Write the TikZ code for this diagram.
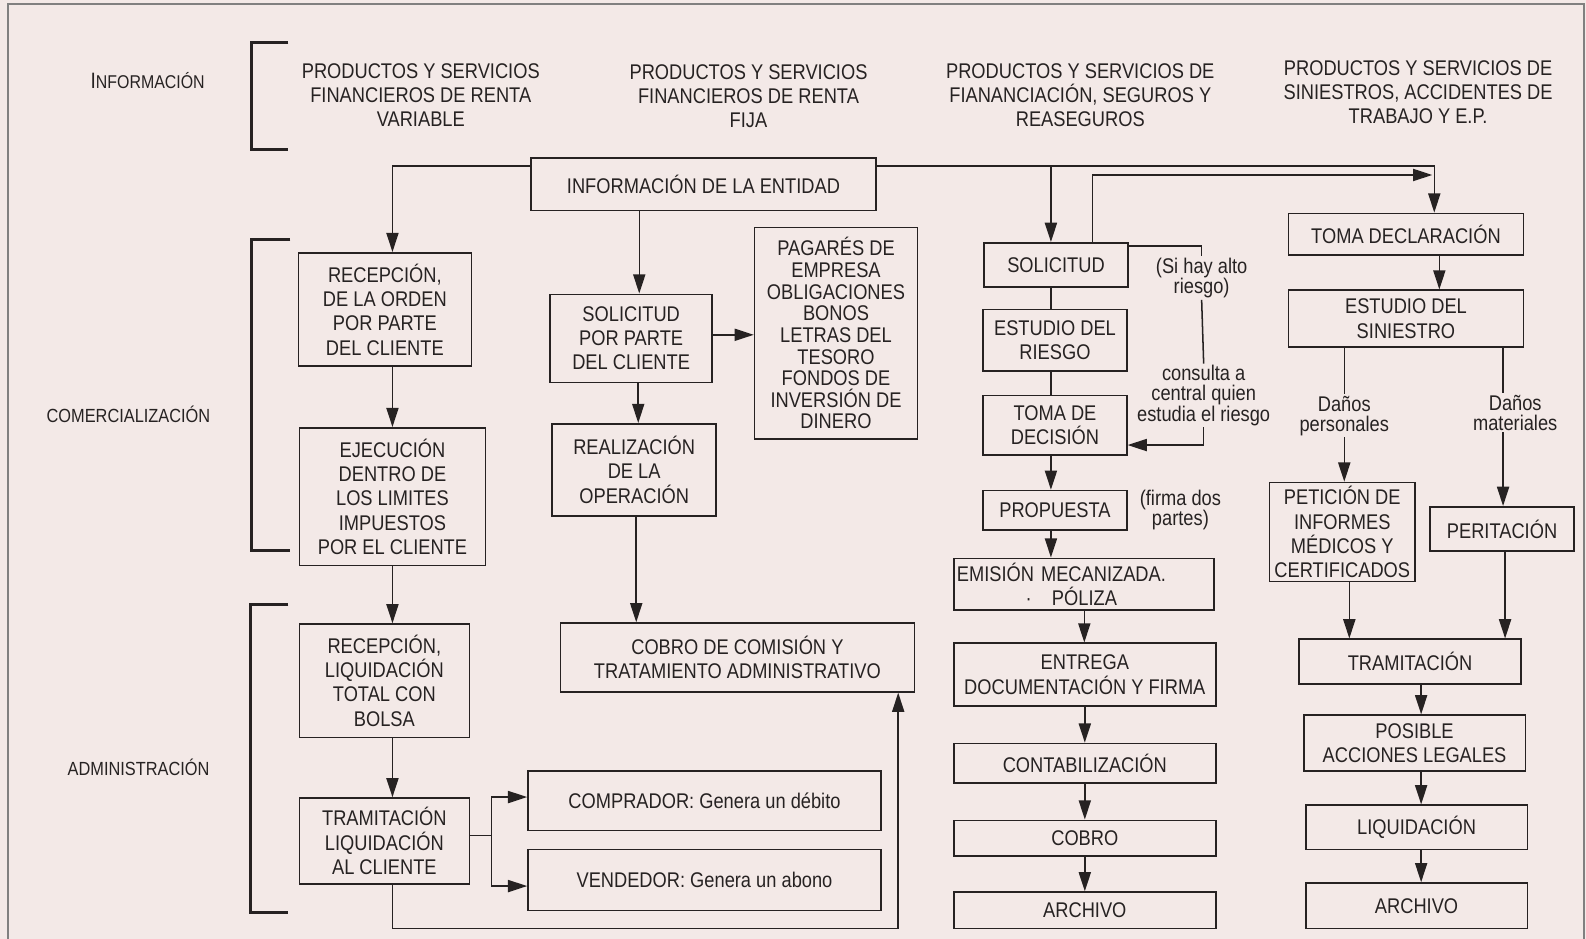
\documentclass[tikz,border=0pt]{standalone}
\usepackage{fontspec}
\setmainfont[FakeStretch=0.86]{Liberation Sans}
\usetikzlibrary{arrows.meta}
\definecolor{paper}{RGB}{243,233,231}
\definecolor{ink}{RGB}{38,34,34}
\tikzset{
->, % connectors are directed
>={Triangle[length=19pt,width=12pt]}, % big filled heads as in the print
x=1pt, y=-1pt, % the page is measured in points from the top left
box/.style={draw=ink, line width=1.6pt, align=center, inner sep=0pt}, % every framed step
note/.style={align=center, inner sep=1pt, font=\fontsize{21}{20}\selectfont}, % remarks beside the lines
head/.style={align=center}, % column headings
side/.style={font=\fontsize{18.8}{20}\selectfont}, % names of the stages
brace/.style={-, line width=3pt}, % brackets of the stages
}

\begin{document}
\begin{tikzpicture}[line width=1.5pt, color=ink, font=\fontsize{21}{24}\selectfont]
        \fill[paper] (0,0) rectangle (1568,928);
        \useasboundingbox (0,0) rectangle (1568,928);
        \draw[-, gray] (8,928) -- (8,4) -- (1566,4) -- (1566,928);

        % stages
        \node[side] (infoL) at (146,80) {{\fontsize{22}{20}\selectfont I}{\fontsize{18.3}{20}\selectfont NFORMACIÓN}};
        \node[side] (comL) at (127,410) {COMERCIALIZACIÓN};
        \node[side] (admL) at (137,759) {ADMINISTRACIÓN};
        \draw[brace] (285,42) -- (249,42) -- (249,148) -- (285,148);
        \draw[brace] (287,237) -- (249,237) -- (249,544) -- (287,544);
        \draw[brace] (285,598) -- (248,598) -- (248,902) -- (285,902);

        % headings
        \node[head] (h1) at (416,94) {PRODUCTOS Y SERVICIOS\\FINANCIEROS DE RENTA\\VARIABLE};
        \node[head] (h2) at (740,95) {PRODUCTOS Y SERVICIOS\\FINANCIEROS DE RENTA\\FIJA};
        \node[head] (h3) at (1068,94) {PRODUCTOS Y SERVICIOS DE\\FIANANCIACIÓN, SEGUROS Y\\REASEGUROS};
        \node[head] (h4) at (1402,91) {PRODUCTOS Y SERVICIOS DE\\SINIESTROS, ACCIDENTES DE\\TRABAJO Y E.P.};

        \node[box, minimum width=341pt, minimum height=52pt] (ent) at (695.5,182) {INFORMACIÓN DE LA ENTIDAD};

        % renta variable
        \node[box, minimum width=171pt, minimum height=112pt] (rec) at (380.5,306) {RECEPCIÓN,\\DE LA ORDEN\\POR PARTE\\DEL CLIENTE};
        \node[box, minimum width=184pt, minimum height=136pt] (ejec) at (388,491) {EJECUCIÓN\\DENTRO DE\\LOS LIMITES\\IMPUESTOS\\POR EL CLIENTE};
        \node[box, minimum width=168pt, minimum height=112pt] (recliq) at (380,673) {RECEPCIÓN,\\LIQUIDACIÓN\\TOTAL CON\\BOLSA};
        \node[box, minimum width=168pt, minimum height=85pt] (tram) at (380,831.5) {TRAMITACIÓN\\LIQUIDACIÓN\\AL CLIENTE};
        \node[box, minimum width=349pt, minimum height=59pt] (comp) at (696.5,791.5) {COMPRADOR: Genera un débito};
        \node[box, minimum width=349pt, minimum height=60pt] (vend) at (696.5,870) {VENDEDOR: Genera un abono};

        % renta fija
        \node[box, minimum width=160pt, minimum height=87pt] (sol2) at (624,334.5) {SOLICITUD\\POR PARTE\\DEL CLIENTE};
        \node[box, minimum width=161pt, minimum height=209pt, font=\fontsize{21}{21.4}\selectfont] (pag) at (826.5,329.5) {PAGARÉS DE\\EMPRESA\\OBLIGACIONES\\BONOS\\LETRAS DEL\\TESORO\\FONDOS DE\\INVERSIÓN DE\\DINERO};
        \node[box, minimum width=162pt, minimum height=91pt] (real) at (627,464.5) {REALIZACIÓN\\DE LA\\OPERACIÓN};
        \node[box, minimum width=350pt, minimum height=68pt] (cobcom) at (729,650) {COBRO DE COMISIÓN Y\\TRATAMIENTO ADMINISTRATIVO};

        % financiacion y seguros
        \node[box, minimum width=142pt, minimum height=44pt] (sol3) at (1044,262) {SOLICITUD};
        \node[box, minimum width=142pt, minimum height=61pt] (estr) at (1043,336.5) {ESTUDIO DEL\\RIESGO};
        \node[box, minimum width=142pt, minimum height=59pt] (toma) at (1043,420.5) {TOMA DE\\DECISIÓN};
        \node[box, minimum width=142pt, minimum height=39pt] (prop) at (1043,504.5) {PROPUESTA};
        \node[box, minimum width=257pt, minimum height=51pt, text width=251pt, align=left] (emis) at (1071.5,577.5) {EMISIÓN MECANIZADA.\\\hspace*{68pt}·\hspace*{20pt}PÓLIZA};
        \node[box, minimum width=259pt, minimum height=62pt] (entr) at (1072.5,667) {ENTREGA\\DOCUMENTACIÓN Y FIRMA};
        \node[box, minimum width=259pt, minimum height=39pt] (cont) at (1072.5,754.5) {CONTABILIZACIÓN};
        \node[box, minimum width=259pt, minimum height=35pt] (cobro) at (1072.5,828.5) {COBRO};
        \node[box, minimum width=259pt, minimum height=36pt] (arch3) at (1072.5,900) {ARCHIVO};
        \node[note] (siHay) at (1188,275) {(Si hay alto\\riesgo)};
        \node[note] (consulta) at (1190,391) {consulta a\\central quien\\estudia el riesgo};
        \node[note] (firma) at (1167,504) {(firma dos\\partes)};

        % siniestros
        \node[box, minimum width=232pt, minimum height=41pt] (decl) at (1390,231.5) {TOMA DECLARACIÓN};
        \node[box, minimum width=232pt, minimum height=56pt] (estsin) at (1390,315) {ESTUDIO DEL\\SINIESTRO};
        \node[note] (danP) at (1329,411) {Daños\\personales};
        \node[note] (danM) at (1498,408) {Daños\\materiales};
        \node[box, minimum width=144pt, minimum height=98pt] (pet) at (1327,526) {PETICIÓN DE\\INFORMES\\MÉDICOS Y\\CERTIFICADOS};
        \node[box, minimum width=142pt, minimum height=44pt] (perit) at (1485,523) {PERITACIÓN};
        \node[box, minimum width=220pt, minimum height=44pt] (tram4) at (1394,654) {TRAMITACIÓN};
        \node[box, minimum width=219pt, minimum height=55pt] (pos) at (1398.5,734.5) {POSIBLE\\ACCIONES LEGALES};
        \node[box, minimum width=219pt, minimum height=44pt] (liq) at (1400.5,818) {LIQUIDACIÓN};
        \node[box, minimum width=219pt, minimum height=45pt] (arch4) at (1400.5,895.5) {ARCHIVO};

        \coordinate (jn) at (1416,173);
        \coordinate (ret) at (888,918);

        % from the entity to every column
        \draw (ent.west |- 0,164) -| (rec.north -| 388,0);
        \draw (ent.east |- 0,164) -| (decl.north -| 1418,0);
        \draw (ent.east |- 0,164) -| (sol3.north -| 1039,0);
        \draw (ent.south -| 632,0) -- (sol2.north -| 632,0);
        \draw (sol3.north -| 1080,0) |- (jn);

        \draw (rec.south -| 388,0) -- (ejec.north -| 388,0);
        \draw (ejec.south -| 388,0) -- (recliq.north -| 388,0);
        \draw (recliq.south -| 388,0) -- (tram.north -| 388,0);
        \draw (tram.east |- 0,826) -- ++(21,0) |- (comp.west |- 0,788);
        \draw (tram.east |- 0,826) -- ++(21,0) |- (vend.west |- 0,876);
        \draw (tram.south -| 388,0) |- (ret) -- (cobcom.south -| ret);

        \draw (sol2.east |- 0,331) -- (pag.west |- 0,331);
        \draw (sol2.south -| 631,0) -- (real.north -| 631,0);
        \draw (real.south -| 629,0) -- (cobcom.north -| 629,0);

        \draw[-] (sol3.south -| 1039,0) -- (estr.north -| 1039,0);
        \draw[-] (estr.south -| 1039,0) -- (toma.north -| 1039,0);
        \draw (toma.south -| 1039,0) -- (prop.north -| 1039,0);
        \draw (prop.south -| 1039,0) -- (emis.north -| 1039,0);
        \draw (emis.south -| 1072,0) -- (entr.north -| 1072,0);
        \draw (entr) edge (cont)
            (cont) edge (cobro)
            (cobro) edge (arch3);
        \draw[-] (sol3.east |- 0,243) -| (siHay.north);
        \draw[-] (siHay.south) -- (consulta.north);
        \draw (consulta.south) |- (toma.east |- 0,440);

        \draw (decl.south -| 1423,0) -- (estsin.north -| 1423,0);
        \draw[-] (estsin.south -| danP.north) -- (danP.north);
        \draw (danP.south) -- (pet.north -| danP.south);
        \draw[-] (estsin.south -| 1486,0) -- (danM.north -| 1486,0);
        \draw (danM.south -| 1486,0) -- (perit.north -| 1486,0);
        \draw (pet.south -| 1334,0) -- (tram4.north -| 1334,0);
        \draw (perit.south -| 1488,0) -- (tram4.north -| 1488,0);
        \draw (tram4.south -| 1405,0) -- (pos.north -| 1405,0);
        \draw (pos.south -| 1405,0) -- (liq.north -| 1405,0);
        \draw (liq.south -| 1405,0) -- (arch4.north -| 1405,0);
    \end{tikzpicture}
\end{document}
